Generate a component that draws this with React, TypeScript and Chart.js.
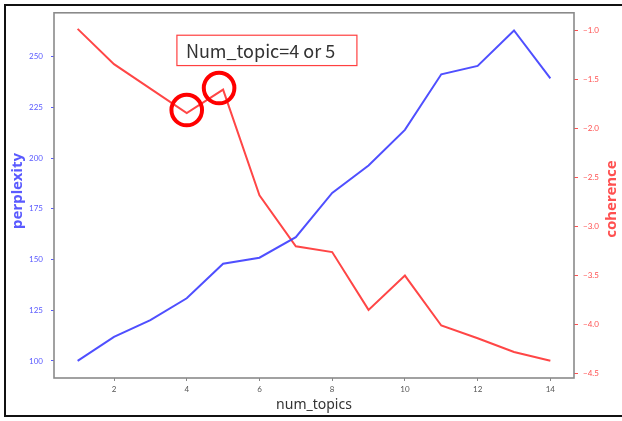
import React, { useEffect, useRef } from "react";
import { Chart, registerables } from "chart.js";

Chart.register(...registerables);

const numTopics = [1, 2, 3, 4, 5, 6, 7, 8, 9, 10, 11, 12, 13, 14];
const perplexity = [100, 111.9, 120.1, 130.9, 147.9, 150.9, 161.0, 182.8, 196.3, 213.9, 241.3, 245.4, 262.9, 239.3];
const coherence = [-0.98, -1.34, -1.59, -1.84, -1.6, -2.68, -3.2, -3.26, -3.85, -3.5, -4.01, -4.14, -4.28, -4.37];
const xTicks = [2, 4, 6, 8, 10, 12, 14];
const perplexityTicks = [100, 125, 150, 175, 200, 225, 250];
const coherenceTicks = [-4.5, -4.0, -3.5, -3.0, -2.5, -2.0, -1.5, -1.0];
const annotationText = "Num_topic=4 or 5";
const circledTopics = [4, 5];

const BLUE = "rgba(60,60,255,0.9)";
const RED = "rgba(255,50,50,0.9)";
const BLUE_TXT = "#5a5aff";
const RED_TXT = "#ff5050";

const fmtMinus = (v: number) => (v < 0 ? "\u2212" + Math.abs(v).toFixed(1) : v.toFixed(1));

const decorPlugin = {
  id: "decor",
  afterDatasetsDraw(chart: any) {
    const { ctx, chartArea, scales } = chart;
    ctx.save();
    // frame
    ctx.strokeStyle = "#8a8a8a";
    ctx.lineWidth = 1.6;
    ctx.strokeRect(chartArea.left, chartArea.top, chartArea.right - chartArea.left, chartArea.bottom - chartArea.top);

    // circles around topics 4 and 5 on coherence line
    const offsets = [[0, -3], [-4, -1.5]];
    circledTopics.forEach((t, k) => {
      const i = numTopics.indexOf(t);
      const cx = scales.x.getPixelForValue(numTopics[i]) + offsets[k][0];
      const cy = scales.y2.getPixelForValue(coherence[i]) + offsets[k][1];
      ctx.beginPath();
      ctx.arc(cx, cy, 15.3, 0, Math.PI * 2);
      ctx.strokeStyle = "#ff0000";
      ctx.lineWidth = 4;
      ctx.stroke();
    });

    // annotation box
    const bx1 = scales.x.getPixelForValue(3.73);
    const bx2 = scales.x.getPixelForValue(8.68);
    const by1 = scales.y2.getPixelForValue(-1.045);
    const by2 = scales.y2.getPixelForValue(-1.355);
    ctx.fillStyle = "#ffffff";
    ctx.fillRect(bx1, by1, bx2 - bx1, by2 - by1);
    ctx.strokeStyle = "#ff4040";
    ctx.lineWidth = 1.2;
    ctx.strokeRect(bx1, by1, bx2 - bx1, by2 - by1);
    ctx.fillStyle = "#333333";
    ctx.font = "18px 'Noto Sans CJK JP'";
    ctx.textBaseline = "middle";
    ctx.textAlign = "left";
    ctx.fillText(annotationText, bx1 + 9, (by1 + by2) / 2 + 1);

    // axis titles
    ctx.font = "14px 'Noto Sans'";
    ctx.textAlign = "center";
    ctx.textBaseline = "middle";
    ctx.fillStyle = "#333333";
    ctx.fillText("num_topics", (chartArea.left + chartArea.right) / 2, chartArea.bottom + 27);

    ctx.font = "bold 15px 'Noto Sans'";
    ctx.save();
    ctx.translate(18, 191);
    ctx.rotate(-Math.PI / 2);
    ctx.fillStyle = BLUE_TXT;
    ctx.fillText("perplexity", 0, 0);
    ctx.restore();

    ctx.save();
    ctx.translate(chartArea.right + 38, 199);
    ctx.rotate(-Math.PI / 2);
    ctx.fillStyle = RED_TXT;
    ctx.fillText("coherence", 0, 0);
    ctx.restore();

    ctx.restore();
  },
};

export default function App() {
  const ref = useRef<HTMLCanvasElement>(null);
  useEffect(() => {
    if (!ref.current) return;
    const tickFont = { family: "Lato", size: 8 };
    const chart = new Chart(ref.current, {
      type: "line",
      data: {
        datasets: [
          {
            label: "perplexity",
            data: numTopics.map((x, i) => ({ x, y: perplexity[i] })),
            borderColor: BLUE,
            borderWidth: 2,
            pointRadius: 0,
            tension: 0,
            yAxisID: "y",
          },
          {
            label: "coherence",
            data: numTopics.map((x, i) => ({ x, y: coherence[i] })),
            borderColor: RED,
            borderWidth: 2,
            pointRadius: 0,
            tension: 0,
            yAxisID: "y2",
          },
        ],
      },
      options: {
        animation: false,
        responsive: false,
        layout: { padding: { top: 10, left: 0, right: 0, bottom: 0 } },
        plugins: { legend: { display: false }, tooltip: { enabled: false } },
        scales: {
          x: {
            type: "linear",
            min: 0.35,
            max: 14.65,
            afterBuildTicks: (s: any) => { s.ticks = xTicks.map((v) => ({ value: v })); },
            afterFit: (s: any) => { s.height = 43; },
            border: { display: false },
            grid: { drawOnChartArea: false, drawTicks: true, tickLength: 3, color: "#888" },
            ticks: { font: tickFont, color: "#555", padding: 4, maxRotation: 0 },
          },
          y: {
            type: "linear",
            position: "left",
            min: 91.6,
            max: 271.6,
            afterBuildTicks: (s: any) => { s.ticks = perplexityTicks.map((v) => ({ value: v })); },
            afterFit: (s: any) => { s.width = 54; },
            border: { display: false },
            grid: { drawOnChartArea: false, drawTicks: true, tickLength: 3, color: BLUE_TXT },
            ticks: { font: tickFont, color: BLUE_TXT, padding: 8 },
          },
          y2: {
            type: "linear",
            position: "right",
            min: -4.546,
            max: -0.816,
            afterBuildTicks: (s: any) => { s.ticks = coherenceTicks.map((v) => ({ value: v })); },
            afterFit: (s: any) => { s.width = 48; },
            border: { display: false },
            grid: { drawOnChartArea: false, drawTicks: true, tickLength: 4, color: RED_TXT },
            ticks: { font: tickFont, color: RED_TXT, padding: 5, callback: (v: any) => fmtMinus(Number(v)) },
          },
        },
      },
      plugins: [decorPlugin],
    });
    return () => chart.destroy();
  }, []);

  return (
    <div style={{ position: "absolute", left: 0, top: 0, width: 622, height: 421, background: "#fff", overflow: "hidden" }}>
      <canvas ref={ref} width={622} height={421} style={{ position: "absolute", left: 0, top: 0, width: 622, height: 421 }} />
      <div
        style={{
          position: "absolute",
          left: 4,
          top: 4,
          width: 640,
          height: 413,
          border: "2px solid #111",
          boxSizing: "border-box",
          pointerEvents: "none",
        }}
      />
    </div>
  );
}
